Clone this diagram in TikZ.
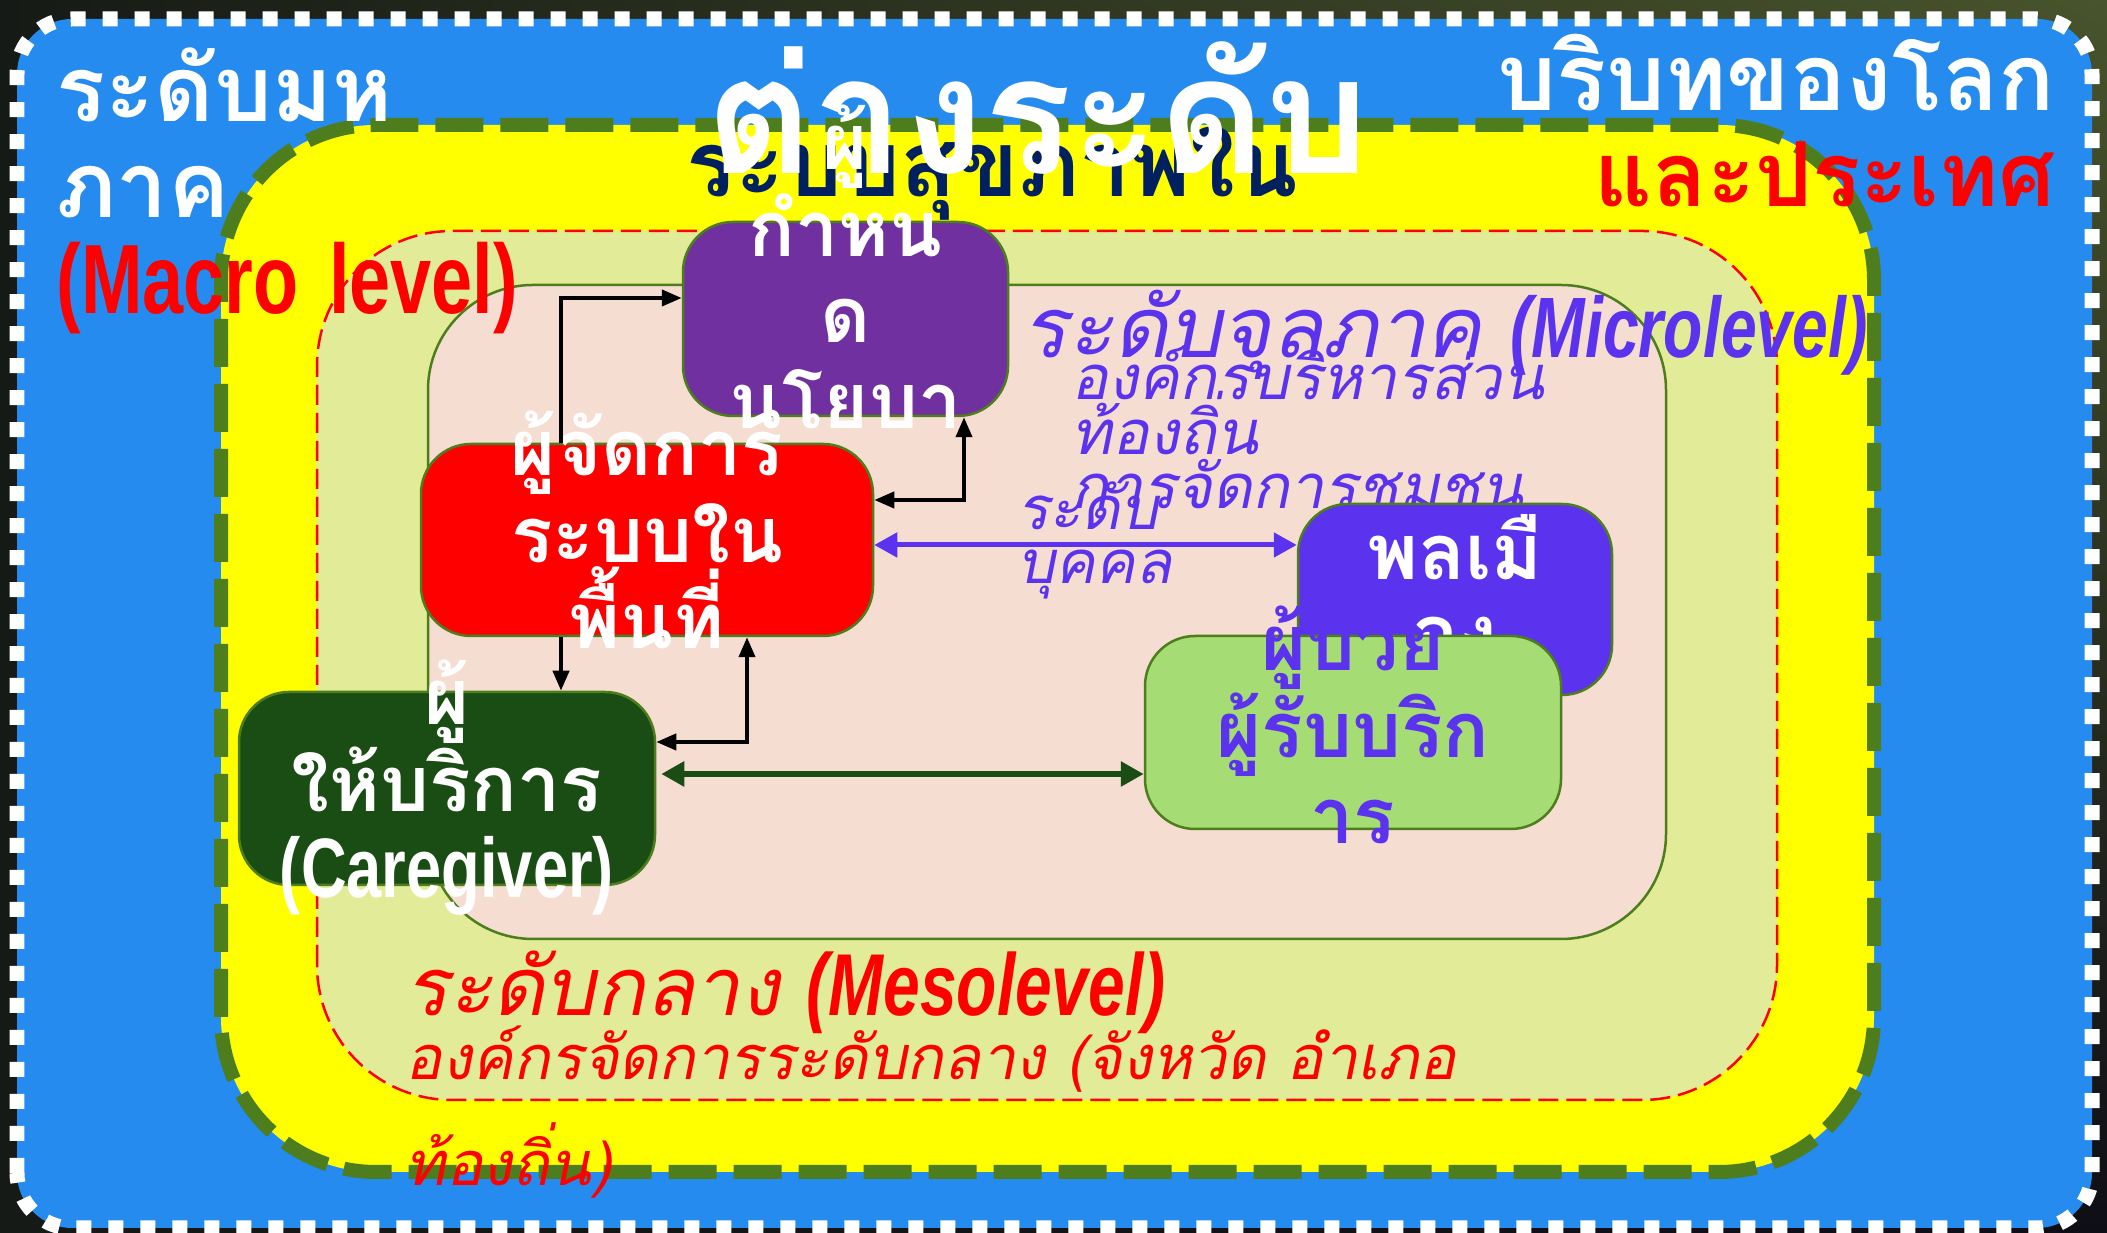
\documentclass[tikz,border=0pt]{standalone}
\usepackage{fontspec}
\usepackage{tikz}
\usetikzlibrary{arrows.meta,positioning,shadings}
\newfontfamily\thaifont[Script=Thai]{Loma}
\newfontfamily\thaislant[Script=Thai,FakeSlant=0.2]{Loma}
\newfontfamily\narrowfont[FakeStretch=0.75]{Liberation Sans}
\newcommand\tightlines{\lineskiplimit=-100pt\relax}

\definecolor{skyblue}{RGB}{37,139,238}
\definecolor{brightyellow}{RGB}{255,255,0}
\definecolor{dashgreen}{RGB}{78,125,30}
\definecolor{palegreen}{RGB}{226,235,151}
\definecolor{palepink}{RGB}{246,221,209}
\definecolor{policypurple}{RGB}{112,48,160}
\definecolor{caregreen}{RGB}{26,77,19}
\definecolor{citizenblue}{RGB}{91,51,238}
\definecolor{patientgreen}{RGB}{166,220,116}
\definecolor{navytext}{RGB}{0,32,96}
\definecolor{bgdark}{RGB}{22,26,22}
\definecolor{bgolive}{RGB}{72,84,44}
\definecolor{bgnavy}{RGB}{14,14,22}

\tikzset{
  box/.style={draw=dashgreen, line width=0.025cm, rounded corners=0.5cm},
  boxtext/.style={text=white, inner sep=0pt, anchor=base, text width=5cm, align=center,
    font=\thaifont\bfseries\fontsize{22}{24.5}\selectfont\tightlines},
  lefttext/.style={inner sep=0pt, anchor=base west, text width=8cm, align=left},
  righttext/.style={inner sep=0pt, anchor=base east, text width=8cm, align=right},
  blk/.style={draw=black, line width=0.04cm, >={Triangle[length=0.2cm,width=0.16cm]}},
  purplearrow/.style={draw=citizenblue, line width=0.05cm, >={Triangle[length=0.23cm,width=0.24cm]}},
  greenarrow/.style={draw=caregreen, line width=0.065cm, >={Triangle[length=0.23cm,width=0.24cm]}}
}

\begin{document}
\begin{tikzpicture}
    \useasboundingbox (0,0) rectangle (21.07,12.33);
    % Background and level frames
    \shade[upper left=bgdark, upper right=bgolive, lower left=bgdark, lower right=bgnavy] (0,0) rectangle (21.07,12.33);
    \draw[fill=skyblue, draw=white, line width=0.15cm, dash pattern=on 0.15cm off 0.17cm, rounded corners=0.55cm] (0.17,0.05) rectangle (20.92,12.14);
    \draw[fill=brightyellow, draw=dashgreen, line width=0.14cm, dash pattern=on 0.48cm off 0.17cm, rounded corners=1.55cm] (2.21,0.61) rectangle (18.74,11.08);
    \draw[fill=palegreen, draw=red, line width=0.025cm, dash pattern=on 0.2cm off 0.08cm, rounded corners=1.35cm] (3.17,1.33) rectangle (17.77,10.02);
    \draw[fill=palepink, draw=dashgreen, line width=0.025cm, rounded corners=1.05cm] (4.28,2.94) rectangle (16.66,9.48);

    % Level labels
    \node[lefttext, text=white, font=\thaifont\bfseries\fontsize{26}{27.3}\selectfont\tightlines] (macro) at (0.56,11.11)
        {ระดับมห\\ภาค\\{\narrowfont\color{red}\fontsize{28}{27.3}\selectfont(Macro level)}};
    \node[righttext, text=white, font=\thaifont\bfseries\fontsize{26.5}{27.3}\selectfont\tightlines] (world) at (20.56,11.22)
        {บริบทของโลก\\{\color{red}\fontsize{25.5}{27.3}\selectfont และประเทศ}};
    \node[lefttext, text=navytext, font=\thaifont\bfseries\fontsize{26}{30}\selectfont] (healthsys) at (6.86,10.36) {ระบบสุขภาพใน};
    \node[lefttext, text width=12cm, text=citizenblue, font=\thaislant\fontsize{24}{28}\selectfont] (micro) at (10.22,8.75)
        {ระดับจุลภาค {\narrowfont\bfseries\itshape\fontsize{24.4}{28}\selectfont(Microlevel)}};
    \node[lefttext, text=citizenblue, font=\thaislant\fontsize{17.5}{15.4}\selectfont\tightlines] (microorg) at (10.71,8.33)
        {องค์กรบริหารส่วน\\ท้องถิ่น\\การจัดการชุมชน};
    \node[lefttext, text=citizenblue, font=\thaislant\fontsize{17}{15.1}\selectfont\tightlines] (person) at (10.17,7.03)
        {ระดับ\\บุคคล};
    \node[lefttext, text width=12cm, text=red, font=\thaislant\fontsize{23}{28}\selectfont] (meso) at (4.05,2.17)
        {ระดับกลาง {\narrowfont\bfseries\itshape\fontsize{25}{28}\selectfont(Mesolevel)}};
    \node[lefttext, text width=12cm, text=red, font=\thaislant\fontsize{17.4}{29.9}\selectfont\tightlines] (mesoorg) at (4.05,1.53)
        {องค์กรจัดการระดับกลาง (จังหวัด อำเภอ\\ท้องถิ่น)};

    % Actor boxes
    \node[box, fill=policypurple, minimum width=3.25cm, minimum height=1.94cm] (policy) at (8.455,9.14) {};
    \node[boxtext] (policytext) at (8.455,10.63) {ผู้\\กำหน\\ด\\นโยบา};
    \node[box, fill=red, minimum width=4.52cm, minimum height=1.92cm] (mgr) at (6.47,6.93) {};
    \node[boxtext] (mgrtext) at (6.47,7.57) {ผู้จัดการ\\ระบบใน\\พื้นที่};
    \node[box, fill=caregreen, minimum width=4.16cm, minimum height=1.93cm] (care) at (4.47,4.445) {};
    \node[boxtext] (caretext) at (4.47,5.08) {ผู้\\ให้บริการ\\{\narrowfont\fontsize{24}{24.5}\selectfont(Caregiver)}};
    \node[box, fill=citizenblue, minimum width=3.14cm, minimum height=1.91cm] (citizen) at (14.55,6.335) {};
    \node[boxtext, font=\thaifont\bfseries\fontsize{22}{22.8}\selectfont\tightlines] (citizentext) at (14.55,6.53) {พลเมื\\อง};
    \node[box, fill=patientgreen, minimum width=4.16cm, minimum height=1.93cm] (patient) at (13.53,5.005) {};
    \node[boxtext, text=citizenblue] (patienttext) at (13.53,5.62) {ผู้ป่วย\\ผู้รับบริก\\าร};

    % Arrows
    \draw[blk, ->] ([xshift=-0.86cm]mgr.north) |- ([yshift=0.21cm]policy.west);
    \draw[blk, <->] ([yshift=0.4cm]mgr.east) -| ([xshift=1.185cm]policy.south);
    \coordinate (mgrside) at ([yshift=-0.05cm]mgr.east);
    \draw[purplearrow, <->] (mgrside) -- (mgrside -| citizen.west);
    \draw[blk, ->] ([xshift=-0.86cm]mgr.south) -- ([xshift=1.14cm]care.north);
    \draw[blk, <->] ([yshift=0.465cm]care.east) -| ([xshift=1.0cm]mgr.south);
    \coordinate (careside) at ([xshift=0.05cm,yshift=0.145cm]care.east);
    \draw[greenarrow, <->] (careside) -- (careside -| patient.west);

    % Title
    \node[anchor=base, inner sep=0pt, text=white, font=\thaifont\bfseries\fontsize{46.5}{50}\selectfont] (title) at (10.38,10.59) {ต่างระดับ};
\end{tikzpicture}
\end{document}
